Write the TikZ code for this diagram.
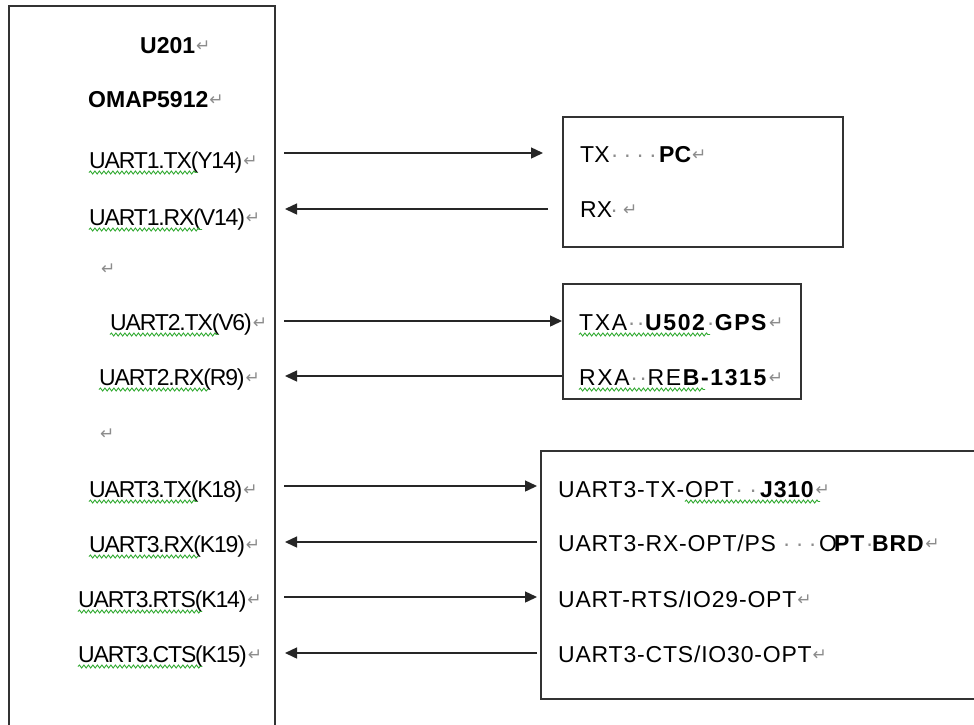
\documentclass[tikz,border=0pt]{standalone}
\usepackage{fontspec}
\setmainfont{Liberation Sans}
\newfontfamily\dvfont{DejaVu Sans}
\usetikzlibrary{arrows.meta,decorations.pathmorphing}
\definecolor{markgray}{RGB}{140,140,140}
\definecolor{squig}{RGB}{50,170,50}
\newcommand{\rt}{\hspace{1pt}\raisebox{1.5pt}{\textcolor{markgray}{\dvfont\fontsize{17}{17}\selectfont ↵}}}
\newcommand{\sdot}[1]{\makebox[#1pt]{\textcolor{markgray}{·}}}
\newcommand{\sg}[2]{\makebox[#1pt][l]{#2}}
\newcommand{\lft}[1]{{\addfontfeature{LetterSpace=-5}#1}}
\tikzset{
  txt/.style={inner sep=0pt, anchor=base west, font=\fontsize{23}{23}\selectfont},
  box/.style={draw=black!80, line width=1.5pt, inner sep=0pt, anchor=north west},
  arr/.style={draw=black!85, line width=1.4pt, -{Triangle[length=12pt,width=11pt]}},
  sq/.style={draw=squig, line width=0.9pt, decorate, decoration={snake, amplitude=1.5pt, segment length=4.5pt}}
}
\begin{document}
\begin{tikzpicture}[x=1pt,y=-1pt]
\useasboundingbox (0,0) rectangle (974,724);
\fill[white] (0,0) rectangle (974,724);

% boxes
\node[box, minimum width=266pt, minimum height=745pt] (chip) at (8,5) {};
\node[box, minimum width=280pt, minimum height=130pt] (pc) at (562,116) {};
\node[box, minimum width=238pt, minimum height=115pt] (gps) at (562,283) {};
\node[box, minimum width=450pt, minimum height=248pt] (opt) at (540,450) {};

% left column
\node[txt] (u201) at (140,53) {\textbf{U201}\rt};
\node[txt] (omap) at (88,107) {\textbf{OMAP5912}\rt};
\node[txt] (l1) at (89,168) {\lft{UART1.TX(Y14)}\rt};
\node[txt] (l2) at (89,225) {\lft{UART1.RX(V14)}\rt};
\node[txt] (e1) at (100,276) {\rt};
\node[txt] (l3) at (110,330) {\lft{UART2.TX(V6)}\rt};
\node[txt] (l4) at (99,385) {\lft{UART2.RX(R9)}\rt};
\node[txt] (e2) at (99,441) {\rt};
\node[txt] (l5) at (89,497) {\lft{UART3.TX(K18)}\rt};
\node[txt] (l6) at (89,552) {\lft{UART3.RX(K19)}\rt};
\node[txt] (l7) at (78,607) {\lft{UART3.RTS(K14)}\rt};
\node[txt] (l8) at (78,662) {\lft{UART3.CTS(K15)}\rt};

% PC box
\node[txt] (r1) at (580,162) {\sg{28}{TX}\sdot{12.75}\sdot{12.75}\sdot{12.75}\sdot{12.75}\textbf{PC}\rt};
\node[txt] (r2) at (580,217) {\sg{30}{RX}\sdot{8}\hspace{4pt}\rt};

% GPS box
\node[txt] (g1) at (579,330) {\addfontfeature{LetterSpace=7}TXA\sdot{9}\sdot{9}\textbf{U502}\sdot{8.2}\textbf{GPS}\rt};
\node[txt] (g2) at (579,385) {\addfontfeature{LetterSpace=7}RXA\sdot{9}\sdot{9}RE\textbf{B-1315}\rt};

% OPT box
\node[txt] (o1) at (558,497) {\addfontfeature{LetterSpace=3.5}\sg{174}{UART3-TX-OPT}\sdot{14}\sdot{14}\textbf{J310}\rt};
\node[txt] (o2) at (558,551) {\addfontfeature{LetterSpace=3.5}\sg{222}{UART3-RX-OPT/PS}\sdot{13}\sdot{13}\sdot{13}\sg{15}{O}\sg{33}{\textbf{PT}}\sdot{5}\textbf{BRD}\rt};
\node[txt] (o3) at (558,607) {\addfontfeature{LetterSpace=3.5}UART-RTS/IO29-OPT\rt};
\node[txt] (o4) at (558,662) {\addfontfeature{LetterSpace=3.5}UART3-CTS/IO30-OPT\rt};

% squiggles
\draw[sq] ([yshift=-4.5pt]l1.base west) -- ++(108,0);
\draw[sq] ([yshift=-4.5pt]l2.base west) -- ++(113,0);
\draw[sq] ([yshift=-4.5pt]l3.base west) -- ++(108,0);
\draw[sq] ([yshift=-4.5pt]l4.base west) -- ++(109,0);
\draw[sq] ([yshift=-4.5pt]l5.base west) -- ++(108,0);
\draw[sq] ([yshift=-4.5pt]l6.base west) -- ++(109,0);
\draw[sq] ([yshift=-4.5pt]l7.base west) -- ++(124,0);
\draw[sq] ([yshift=-4.5pt]l8.base west) -- ++(124,0);
\draw[sq] ([yshift=-4.5pt]g1.base west) -- ++(131,0);
\draw[sq] ([yshift=-4.5pt]g2.base west) -- ++(126,0);
\draw[sq] ([xshift=127pt,yshift=-4.5pt]o1.base west) -- ++(135,0);

% connectors
\coordinate (s1) at (284,153); \coordinate (t1) at (543,153);
\coordinate (s2) at (548,209); \coordinate (t2) at (285,209);
\coordinate (s3) at (284,321);
\coordinate (t4) at (285,376);
\coordinate (s5) at (284,486); \coordinate (t5) at (537,486);
\coordinate (s6) at (537,542); \coordinate (t6) at (285,542);
\coordinate (s7) at (284,597); \coordinate (t7) at (537,597);
\coordinate (s8) at (537,653); \coordinate (t8) at (285,653);

\draw[arr] (s1) -- (t1);
\draw[arr] (s2) -- (t2);
\draw[arr] (s3) -- (s3 -| gps.west);
\draw[arr] (t4 -| gps.west) -- (t4);
\draw[arr] (s5) -- (t5);
\draw[arr] (s6) -- (t6);
\draw[arr] (s7) -- (t7);
\draw[arr] (s8) -- (t8);
\end{tikzpicture}
\end{document}
